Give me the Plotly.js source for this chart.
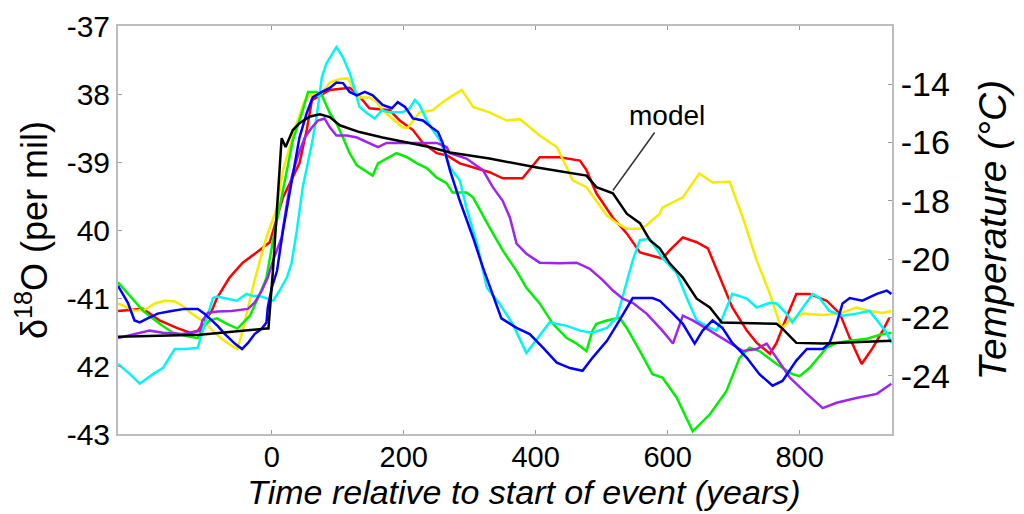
<!DOCTYPE html>
<html>
<head>
<meta charset="utf-8">
<script src="https://cdn.plot.ly/plotly-3.0.1.min.js"></script>
<style>
html,body{margin:0;padding:0;background:#fff;}
#chart{width:1024px;height:514px;}
</style>
</head>
<body>
<div id="chart"></div>
<script>
// ---- data (time in years relative to start of event, delta18O per mil) ----
const modelX = [-233,-109,-8,-5,2,15,21,32,42,58,73,88,103,133,168,205,239,270,330,402,477,492,517,538,558,573,588,603,623,644,664,682,765,774,795,835,939];
const modelY = [-41.57,-41.54,-41.45,-41.45,-40.57,-38.65,-38.78,-38.53,-38.43,-38.33,-38.30,-38.34,-38.46,-38.56,-38.64,-38.71,-38.78,-38.86,-38.95,-39.08,-39.20,-39.37,-39.46,-39.76,-39.90,-40.15,-40.27,-40.49,-40.70,-41.01,-41.14,-41.36,-41.38,-41.45,-41.66,-41.67,-41.63];

const redX = [-233,-195,-170,-144,-124,-112,-91,-83,-64,-44,-23,-3,17,42,53,61,88,118,129,148,179,194,214,229,250,265,285,330,350,380,406,436,467,477,492,517,538,558,592,603,623,644,661,679,698,720,735,755,765,780,795,815,841,861,876,894,911,926,936];
const redY = [-41.19,-41.16,-41.33,-41.44,-41.51,-41.48,-41.19,-41.00,-40.70,-40.48,-40.33,-40.18,-39.52,-39.02,-38.53,-38.09,-37.94,-37.91,-37.99,-38.21,-38.24,-38.39,-38.53,-38.72,-38.87,-38.90,-39.02,-39.15,-39.24,-39.24,-38.93,-38.93,-38.98,-39.12,-39.46,-39.82,-40.05,-40.33,-40.42,-40.30,-40.11,-40.18,-40.27,-40.70,-41.14,-41.48,-41.66,-41.82,-41.66,-41.29,-40.94,-40.94,-41.04,-41.23,-41.59,-41.97,-41.73,-41.48,-41.29];

const yellowX = [-233,-208,-192,-177,-162,-147,-136,-121,-106,-97,-86,-76,-61,-52,-44,-36,-26,-15,-8,8,17,38,50,58,73,88,103,115,123,133,148,159,168,183,198,206,214,224,244,259,270,288,305,330,356,376,406,432,447,456,477,492,508,523,538,558,568,588,592,623,648,668,694,714,735,755,770,774,785,805,835,861,886,906,926,939];
const yellowY = [-41.08,-41.19,-41.17,-41.08,-41.04,-41.05,-41.11,-41.23,-41.33,-41.41,-41.51,-41.60,-41.70,-41.75,-41.48,-41.14,-40.74,-40.35,-40.11,-39.67,-39.12,-38.43,-38.09,-38.02,-38.02,-37.83,-37.78,-37.77,-37.90,-38.05,-38.05,-38.12,-38.24,-38.36,-38.49,-38.50,-38.39,-38.27,-38.24,-38.12,-38.05,-37.94,-38.19,-38.27,-38.39,-38.37,-38.61,-38.78,-39.08,-39.27,-39.37,-39.57,-39.79,-39.90,-39.98,-39.98,-39.93,-39.76,-39.67,-39.52,-39.17,-39.30,-39.29,-39.82,-40.45,-40.94,-41.38,-41.44,-41.33,-41.23,-41.25,-41.23,-41.14,-41.19,-41.22,-41.19];

const greenX = [-233,-215,-195,-170,-150,-129,-112,-105,-94,-83,-68,-52,-33,-18,-8,2,17,32,47,55,68,76,88,98,108,118,129,141,153,161,174,189,205,220,235,250,265,274,295,305,330,350,371,386,406,426,447,462,477,486,492,508,527,538,558,577,592,614,638,664,689,709,724,739,765,789,800,815,841,856,876,902,926,939];
const greenY = [-40.77,-40.97,-41.19,-41.38,-41.51,-41.56,-41.59,-41.44,-41.33,-41.30,-41.38,-41.45,-41.26,-40.94,-40.70,-40.15,-39.42,-38.68,-38.24,-37.97,-37.97,-38.02,-38.28,-38.43,-38.64,-38.87,-39.05,-39.12,-39.20,-39.02,-38.95,-38.87,-38.93,-39.02,-39.09,-39.23,-39.31,-39.45,-39.45,-39.52,-39.96,-40.30,-40.60,-40.85,-41.08,-41.38,-41.59,-41.67,-41.78,-41.48,-41.38,-41.33,-41.29,-41.44,-41.78,-42.12,-42.17,-42.47,-42.96,-42.71,-42.37,-41.88,-41.73,-41.78,-41.97,-42.12,-42.15,-42.03,-41.73,-41.66,-41.63,-41.60,-41.53,-41.51];

const blueX = [-233,-218,-208,-200,-188,-173,-152,-132,-112,-102,-91,-82,-71,-56,-45,-36,-26,-15,-8,-6,0,8,17,32,42,53,62,76,88,98,108,118,129,141,153,168,182,191,202,214,229,242,252,259,267,270,285,305,320,335,348,371,391,411,432,452,471,486,508,527,538,547,577,588,608,623,641,653,668,683,698,720,739,759,774,795,811,835,845,856,865,876,895,917,932,939];
const blueY = [-40.82,-41.07,-41.33,-41.36,-41.30,-41.23,-41.19,-41.16,-41.16,-41.23,-41.33,-41.41,-41.53,-41.67,-41.75,-41.66,-41.53,-41.45,-41.36,-41.14,-40.85,-40.60,-40.01,-39.17,-38.64,-38.28,-38.05,-37.97,-37.91,-37.83,-37.84,-37.97,-38.02,-37.97,-38.02,-38.16,-38.21,-38.12,-38.19,-38.36,-38.39,-38.49,-38.56,-38.72,-39.02,-39.12,-39.57,-40.11,-40.55,-40.94,-41.30,-41.44,-41.53,-41.73,-41.95,-42.03,-42.07,-41.88,-41.63,-41.33,-41.14,-41.00,-41.00,-41.04,-41.23,-41.38,-41.67,-41.48,-41.33,-41.44,-41.66,-41.88,-42.12,-42.29,-42.22,-41.92,-41.75,-41.75,-41.67,-41.38,-41.08,-41.00,-41.04,-40.94,-40.89,-40.94];

const cyanX = [-233,-215,-200,-180,-165,-147,-129,-112,-106,-89,-83,-68,-53,-38,-29,-18,-8,2,12,23,30,38,47,61,68,76,83,98,108,118,126,133,144,156,167,179,198,209,217,224,235,244,255,262,270,285,295,311,326,345,365,386,406,421,447,467,486,508,523,538,547,558,573,592,614,629,644,664,674,683,698,720,735,755,765,780,789,805,820,830,845,865,886,906,921,932,939];
const cyanY = [-41.97,-42.12,-42.26,-42.12,-42.03,-41.75,-41.75,-41.73,-41.53,-41.00,-40.98,-41.01,-41.04,-40.94,-40.97,-40.97,-41.01,-41.04,-40.89,-40.70,-40.49,-40.01,-39.37,-38.72,-38.34,-37.75,-37.55,-37.31,-37.46,-37.69,-37.94,-38.19,-38.28,-38.36,-38.24,-38.27,-38.27,-38.21,-38.09,-38.16,-38.39,-38.53,-38.68,-38.86,-39.08,-39.27,-39.67,-40.20,-40.85,-41.08,-41.38,-41.81,-41.56,-41.36,-41.41,-41.48,-41.51,-41.44,-41.29,-40.74,-40.45,-40.15,-40.13,-40.41,-40.64,-41.00,-41.33,-41.44,-41.48,-41.29,-40.94,-41.01,-41.14,-41.07,-41.08,-41.23,-41.36,-41.14,-40.94,-41.00,-41.19,-41.26,-41.23,-41.19,-41.38,-41.51,-41.66];

const purpleX = [-233,-208,-185,-165,-136,-121,-109,-105,-97,-82,-61,-36,-26,-15,-6,2,15,23,30,39,50,61,70,80,88,98,114,129,144,161,174,189,209,229,250,265,270,295,320,335,350,361,371,386,406,436,462,482,502,517,532,547,568,592,608,623,638,664,689,714,735,750,765,785,811,835,856,886,917,939];
const purpleY = [-41.59,-41.53,-41.48,-41.51,-41.53,-41.51,-41.48,-41.33,-41.22,-41.20,-41.19,-41.16,-41.07,-40.89,-40.70,-40.45,-40.11,-39.61,-39.23,-38.93,-38.64,-38.49,-38.39,-38.36,-38.49,-38.61,-38.61,-38.64,-38.71,-38.78,-38.72,-38.72,-38.72,-38.72,-38.72,-38.78,-38.87,-38.95,-39.12,-39.37,-39.57,-39.82,-40.20,-40.35,-40.48,-40.49,-40.48,-40.57,-40.74,-40.89,-41.01,-41.07,-41.23,-41.48,-41.67,-41.26,-41.33,-41.48,-41.63,-41.78,-41.75,-41.67,-41.88,-42.17,-42.41,-42.62,-42.54,-42.47,-42.41,-42.26];

const leftTicks = [-37,-38,-39,-40,-41,-42,-43];
const leftTickText = ["-37","38","-39","40","-41","42","-43"];
const xTicks = [0,200,400,600,800];
const tempTicks = [-14,-16,-18,-20,-22,-24];

// ---- traces ----
function line(x, y, color, name) {
  return {x: x, y: y, type: 'scatter', mode: 'lines', name: name,
          line: {color: color, width: 2.5}, hoverinfo: 'x+y'};
}
const traces = [
  line(redX, redY, '#ff0000', 'record 1'),
  line(yellowX, yellowY, '#f5ea00', 'record 2'),
  line(greenX, greenY, '#00f000', 'record 3'),
  line(cyanX, cyanY, '#00f5f5', 'record 4'),
  line(purpleX, purpleY, '#a024f0', 'record 5'),
  line(blueX, blueY, '#0000ff', 'record 6'),
  line(modelX, modelY, '#000000', 'model'),
  // invisible trace to activate the right-hand temperature axis
  {x: [0], y: [-20], yaxis: 'y2', type: 'scatter', mode: 'markers',
   marker: {opacity: 0}, hoverinfo: 'skip', showlegend: false}
];

const font = 'Liberation Sans, Arial, Helvetica, sans-serif';
const layout = {
  width: 1024, height: 514,
  margin: {l: 118, r: 132, t: 26, b: 80},
  paper_bgcolor: '#ffffff', plot_bgcolor: '#ffffff',
  showlegend: false,
  font: {family: font, color: '#000'},
  xaxis: {
    range: [-233, 940], tickvals: xTicks, ticktext: xTicks.map(String),
    showgrid: false, zeroline: false,
    showline: true, linecolor: '#bdbdbd', linewidth: 2, mirror: 'ticks',
    ticks: 'inside', ticklen: 4, tickcolor: '#999',
    ticklabelstandoff: -4,
    tickfont: {size: 29, family: font},
    title: {text: '<i>&nbsp;&nbsp;&nbsp;&nbsp;Time relative to start of event (years)</i>', font: {size: 34, family: font}, standoff: 4}
  },
  yaxis: {
    range: [-43, -37], tickvals: leftTicks, ticktext: leftTickText,
    showgrid: false, zeroline: false,
    showline: true, linecolor: '#bdbdbd', linewidth: 2, mirror: true,
    ticks: 'inside', ticklen: 4, tickcolor: '#999',
    tickfont: {size: 30, family: font},
    title: {text: 'δ<sup>18</sup>O (per mil)', font: {size: 36, family: font}, standoff: 8}
  },
  yaxis2: {
    overlaying: 'y', side: 'right', range: [-26, -12],
    tickvals: tempTicks, ticktext: tempTicks.map(String),
    showgrid: false, zeroline: false,
    showline: true, linecolor: '#bdbdbd', linewidth: 2,
    ticks: 'inside', ticklen: 4, tickcolor: '#999',
    tickfont: {size: 34, family: font},
    title: {text: '<i>Temperature (°C)</i>', font: {size: 39, family: font}, standoff: 30}
  },
  annotations: [{
    x: 517, y: -39.42, xref: 'x', yref: 'y',
    text: 'model', showarrow: true, arrowhead: 0, arrowwidth: 1.5, arrowcolor: '#333',
    ax: 54, ay: -75, font: {size: 28, family: font, color: '#000'}
  }]
};

Plotly.newPlot('chart', traces, layout, {displayModeBar: false, staticPlot: true});
</script>
</body>
</html>
